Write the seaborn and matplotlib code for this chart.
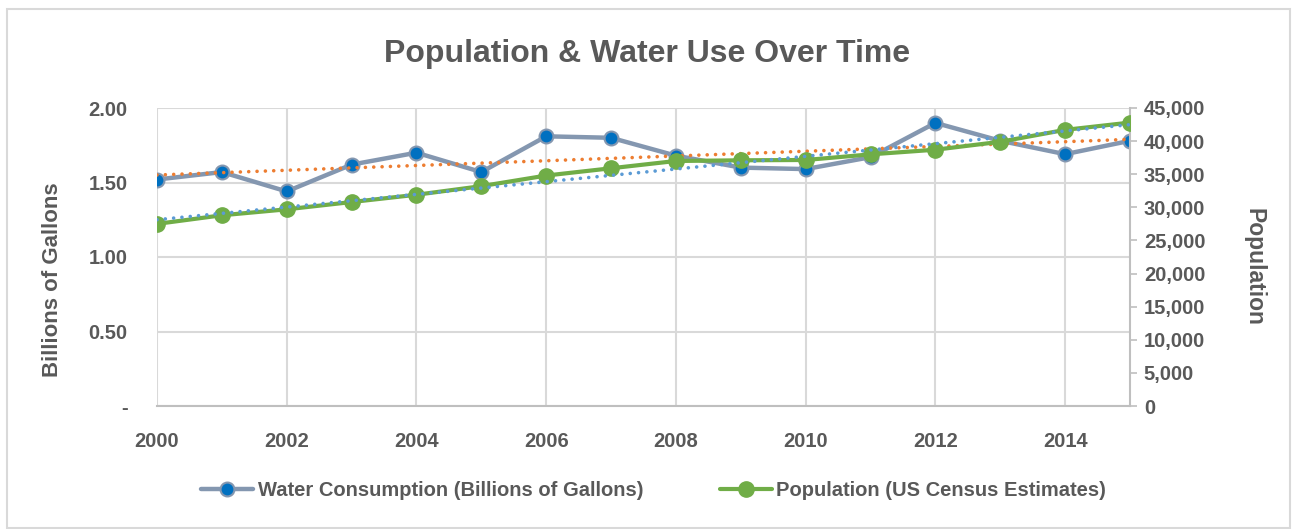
import numpy as np
import pandas as pd
import matplotlib
matplotlib.use("Agg")
import matplotlib.pyplot as plt
from matplotlib.ticker import FuncFormatter, MultipleLocator
from matplotlib.patches import Rectangle
import seaborn as sns

years = list(range(2000, 2016))
water_billion_gal = [1.52, 1.57, 1.44, 1.62, 1.70, 1.57, 1.81, 1.80,
                     1.68, 1.60, 1.59, 1.67, 1.90, 1.78, 1.69, 1.78]
population = [27500, 28800, 29700, 30800, 31900, 33200, 34800, 35900,
              37000, 37100, 37150, 38000, 38700, 39900, 41700, 42800]
x_tick_years = [2000, 2002, 2004, 2006, 2008, 2010, 2012, 2014]

title = "Population & Water Use Over Time"
water_label = "Water Consumption (Billions of Gallons)"
pop_label = "Population (US Census Estimates)"

df = pd.DataFrame({"year": years, "water": water_billion_gal, "pop": population})

sns.set_theme(style="white")
plt.rcParams["font.family"] = ["Liberation Sans", "DejaVu Sans"]

TEXT = "#595959"
GRID = "#D9D9D9"
WATER_LINE = "#8497B0"
WATER_MARK = "#0070C0"
POP = "#70AD47"
TREND_W = "#ED7D31"
TREND_P = "#5B9BD5"
DOTTED = (0, (0.01, 2.3))

fig = plt.figure(figsize=(12.94, 5.29), dpi=100)
fig.patches.append(Rectangle((7 / 1294, 1 / 529), 1283 / 1294, 519 / 529,
                             transform=fig.transFigure, fill=False,
                             edgecolor=GRID, linewidth=1.5))

ax = fig.add_axes([157 / 1294, 123 / 529, 973 / 1294, 298 / 529])
ax2 = ax.twinx()

# water consumption on the left axis, with its linear trend
sns.lineplot(data=df, x="year", y="water", ax=ax, color=WATER_LINE,
             linewidth=3.2, marker="o", markersize=10,
             markerfacecolor=WATER_MARK, markeredgecolor=WATER_LINE,
             markeredgewidth=1.5, label=water_label, legend=False, zorder=3)
sns.regplot(data=df, x="year", y="water", ax=ax, ci=None, scatter=False,
            line_kws=dict(color=TREND_W, linestyle=DOTTED,
                          linewidth=2.6, dash_capstyle="round", zorder=4))

# population on the right axis, with its linear trend
sns.lineplot(data=df, x="year", y="pop", ax=ax2, color=POP, linewidth=3.0,
             marker="o", markersize=11, markerfacecolor=POP,
             markeredgecolor=POP, markeredgewidth=1,
             label=pop_label, legend=False, zorder=3)
sns.regplot(data=df, x="year", y="pop", ax=ax2, ci=None, scatter=False,
            line_kws=dict(color=TREND_P, linestyle=DOTTED,
                          linewidth=2.6, dash_capstyle="round", zorder=4))

ax.set_xlim(2000, 2015)
ax.set_ylim(0, 2.0)
ax2.set_ylim(0, 45000)

ax.set_xticks(x_tick_years)
ax.yaxis.set_major_locator(MultipleLocator(0.5))
ax.yaxis.set_major_formatter(FuncFormatter(lambda v, p: "-" if abs(v) < 1e-9 else f"{v:.2f}"))
ax2.yaxis.set_major_locator(MultipleLocator(5000))
ax2.yaxis.set_major_formatter(FuncFormatter(lambda v, p: f"{int(v):,}"))

ax.grid(True, color=GRID, linewidth=1.5)
ax.set_axisbelow(True)
for s in ["top", "right", "left"]:
    ax.spines[s].set_visible(False)
ax.spines["bottom"].set_color("#BFBFBF")
ax.spines["bottom"].set_linewidth(1.5)
for s in ["top", "left", "bottom"]:
    ax2.spines[s].set_visible(False)
ax2.spines["right"].set_color("#BFBFBF")
ax2.spines["right"].set_linewidth(1.5)

TICK_SIZE = 14.5
ax.tick_params(axis="x", length=0, pad=19, labelcolor=TEXT, labelsize=TICK_SIZE)
ax.tick_params(axis="y", length=0, pad=21, labelcolor=TEXT, labelsize=TICK_SIZE)
ax2.tick_params(axis="y", right=True, length=5, width=1.2, color="#BFBFBF",
                pad=5, labelcolor=TEXT, labelsize=TICK_SIZE)
for t in ax.get_xticklabels() + ax.get_yticklabels() + ax2.get_yticklabels():
    t.set_fontweight("bold")

ax.set_xlabel("")
ax.set_ylabel("Billions of Gallons", fontsize=16, fontweight="bold", color=TEXT,
              va="center")
ax.yaxis.set_label_coords(-0.107, 0.423)
ax2.set_ylabel("Population", fontsize=16.5, fontweight="bold", color=TEXT,
               rotation=270, va="center")
ax2.yaxis.set_label_coords(1.127, 0.466)

fig.text(0.5, 1 - 54 / 529, title, ha="center", va="center",
         fontsize=23, fontweight="bold", color=TEXT)

h1, l1 = ax.get_legend_handles_labels()
h2, l2 = ax2.get_legend_handles_labels()
leg = fig.legend(h1[:1] + h2[:1], [water_label, pop_label], loc="center",
                 bbox_to_anchor=(0.505, 1 - 491 / 529), ncol=2, frameon=False,
                 handlelength=2.6, columnspacing=3.8, handletextpad=0.2,
                 prop=dict(size=14.5, weight="bold"))
for t in leg.get_texts():
    t.set_color(TEXT)

fig.savefig("out.png", dpi=100)
